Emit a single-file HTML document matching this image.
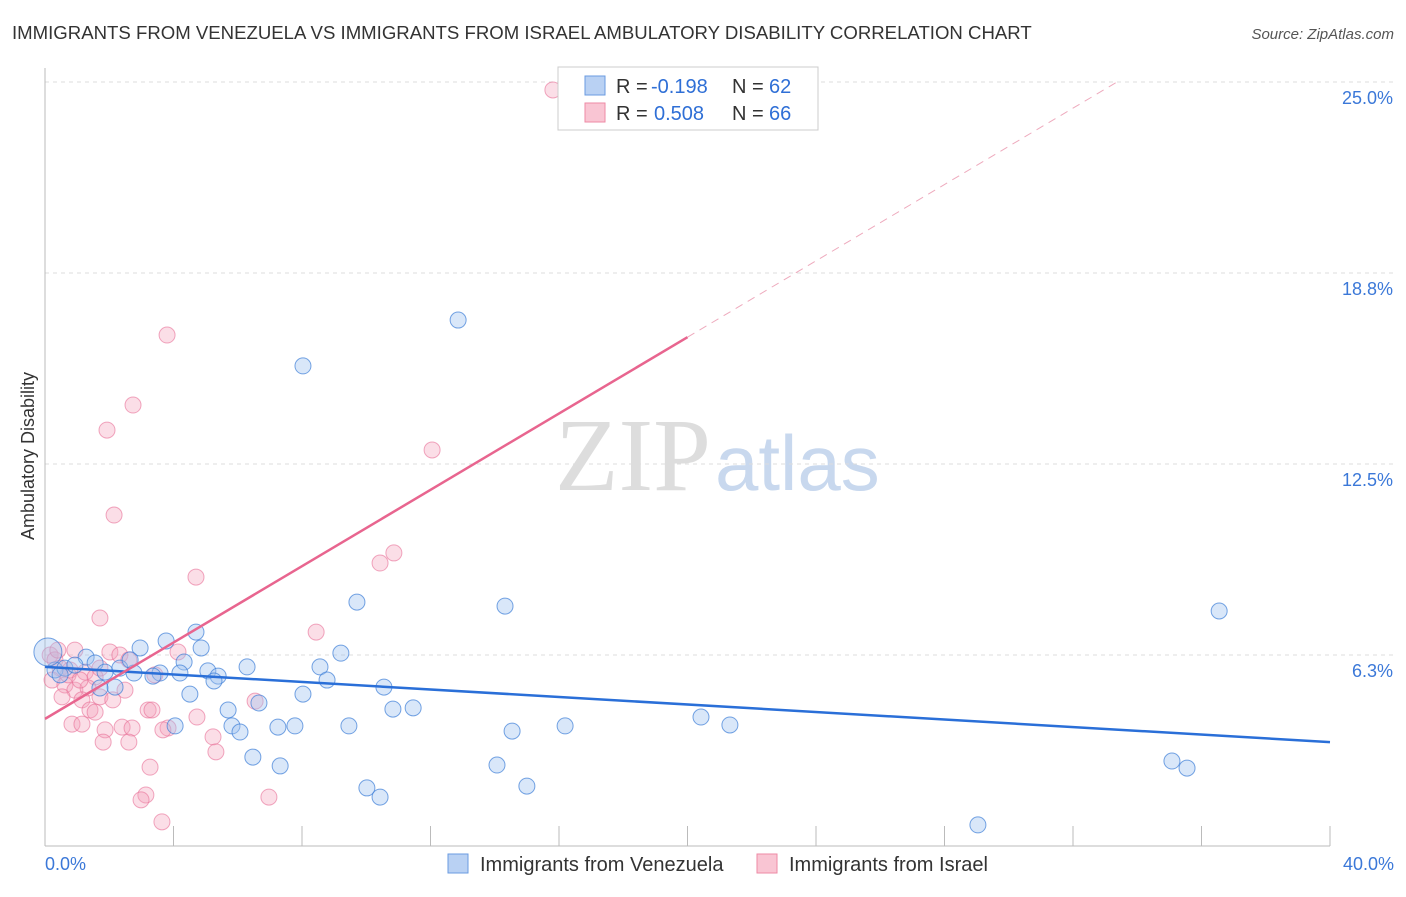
<!DOCTYPE html>
<html><head><meta charset="utf-8"><style>
body{margin:0;background:#fff;font-family:"Liberation Sans",sans-serif}
</style></head><body>
<svg id="chart" width="1406" height="892" xmlns="http://www.w3.org/2000/svg" font-family="Liberation Sans, sans-serif">
<text x="12" y="39" font-size="18.6" fill="#333">IMMIGRANTS FROM VENEZUELA VS IMMIGRANTS FROM ISRAEL AMBULATORY DISABILITY CORRELATION CHART</text>
<text x="1394" y="39" font-size="15" fill="#555" font-style="italic" text-anchor="end">Source: ZipAtlas.com</text>
<text x="555" y="490" font-size="104" fill="#ddd" font-family="Liberation Serif, serif">ZIP<tspan fill="#c8d8ee" font-family="Liberation Sans, sans-serif" font-size="78" dx="4">atlas</tspan></text>
<text transform="translate(34,456) rotate(-90)" font-size="18" fill="#333" text-anchor="middle">Ambulatory Disability</text>
<g id="grid"></g><g id="axes"></g><g id="pts"></g><g id="trend"></g>
<g>
<rect x="558" y="67" width="260" height="63" fill="#fff" stroke="#ccc"/>
<rect x="585" y="76" width="20" height="19" fill="#b9d1f3" stroke="#6a9be0"/>
<text x="616" y="93" font-size="20" fill="#333">R =</text>
<text x="651" y="93" font-size="20" fill="#2f6fd6">-0.198</text>
<text x="732" y="93" font-size="20" fill="#333">N =</text>
<text x="769" y="93" font-size="20" fill="#2f6fd6">62</text>
<rect x="585" y="103" width="20" height="19" fill="#f9c5d3" stroke="#ee8aa5"/>
<text x="616" y="120" font-size="20" fill="#333">R =</text>
<text x="654" y="120" font-size="20" fill="#2f6fd6">0.508</text>
<text x="732" y="120" font-size="20" fill="#333">N =</text>
<text x="769" y="120" font-size="20" fill="#2f6fd6">66</text>
</g>
<g>
<rect x="448" y="854" width="20" height="19" fill="#b9d1f3" stroke="#6a9be0"/>
<text x="480" y="871" font-size="20" fill="#333">Immigrants from Venezuela</text>
<rect x="757" y="854" width="20" height="19" fill="#f9c5d3" stroke="#ee8aa5"/>
<text x="789" y="871" font-size="20" fill="#333">Immigrants from Israel</text>
</g>
</svg>
<script>
const yTicks=[6.25,12.5,18.75,25];
const yTickLabels=["6.3%","12.5%","18.8%","25.0%"];
const xTickLabels=["0.0%","40.0%"];
const blueX=[12.86,8.03,9.71,14.32,36.55,4.70,3.77,2.96,4.86,9.21,1.28,4.33,6.29,8.56,5.07,4.20,3.58,2.77,5.39,5.26,8.78,3.36,10.55,2.18,4.51,8.03,6.66,5.70,10.83,11.46,20.42,4.05,5.82,7.25,7.78,9.46,16.19,21.32,6.07,14.54,6.47,7.32,14.07,35.08,35.55,15.00,10.02,10.43,29.04,0.31,0.62,0.93,1.56,1.87,2.33,2.65,1.71,0.47,0.09];
const blueY=[17.21,15.71,7.98,7.85,7.69,7.00,6.71,6.48,6.48,6.31,6.18,6.02,5.86,5.86,5.73,5.66,5.66,5.66,5.56,5.40,5.43,5.56,5.20,5.20,4.97,4.97,4.68,4.45,4.48,4.52,4.22,3.93,3.93,3.89,3.93,3.93,3.93,3.96,3.73,3.76,2.91,2.62,2.65,2.78,2.55,1.96,1.90,1.60,0.69,5.76,5.82,5.92,5.99,5.69,5.82,6.09,5.17,5.60,6.35];
const pinkX=[15.81,3.80,2.74,1.93,12.05,2.15,10.86,10.43,4.70,1.71,8.44,0.93,2.02,2.33,2.61,4.14,0.16,0.31,0.47,0.78,1.25,1.56,0.22,0.62,0.93,1.34,0.53,1.71,2.11,1.15,1.40,1.56,3.42,2.49,6.54,3.21,3.33,4.73,0.84,1.15,2.40,1.87,2.71,3.83,3.67,5.23,1.81,2.61,5.32,3.27,3.14,2.99,6.97,3.64,0.40,0.72,1.09,1.71];
const pinkY=[24.74,16.72,14.43,13.61,12.96,10.83,9.59,9.26,8.80,7.46,7.00,6.41,6.35,6.25,6.09,6.35,6.25,6.09,5.82,5.76,5.69,5.53,5.43,5.27,5.10,5.17,4.88,4.88,4.78,4.78,4.45,4.38,5.60,5.10,4.74,4.45,4.45,4.22,3.99,3.99,3.89,3.80,3.86,3.86,3.80,3.57,3.40,3.40,3.08,2.58,1.67,1.51,1.60,0.79,6.41,5.60,5.43,5.82];
const blueTrend=[5.86,3.40];
const pinkTrend=[4.16,0.6245];
const NS="http://www.w3.org/2000/svg";
const X=v=>45+v/40*1285, Y=v=>846-v/25*764;
function mk(t,a,p){const e=document.createElementNS(NS,t);for(const k in a)e.setAttribute(k,a[k]);p.appendChild(e);return e;}
const grid=document.getElementById('grid'),axes=document.getElementById('axes'),pts=document.getElementById('pts'),tr=document.getElementById('trend');
yTicks.forEach((v,i)=>{
 const l=mk('line',{x1:45,x2:1394,y1:Y(v),y2:Y(v),stroke:'#ddd','stroke-dasharray':'4,4'},grid);
 
 
 const t=mk('text',{x:1393,y:Y(v)+22,'font-size':18,fill:'#3b78d8','text-anchor':'end'},axes);t.textContent=yTickLabels[i];
 
 
});
const ax=mk('line',{x1:45,x2:45,y1:68,y2:846,stroke:'#bbb'},axes);


const bx=mk('line',{x1:45,x2:1330,y1:846,y2:846,stroke:'#bbb'},axes);


for(let i=1;i<=10;i++){const tk=mk('line',{x1:X(i*4),x2:X(i*4),y1:826,y2:846,stroke:'#bbb'},axes);
 
 }
[[0,'start',45],[40,'end',1394]].forEach((d,i)=>{const t=mk('text',{x:d[2],y:870,'font-size':18,fill:'#3b78d8','text-anchor':d[1]},axes);t.textContent=xTickLabels[i];
 
 });
pinkX.forEach((x,i)=>{const c=mk('circle',{cx:X(x),cy:Y(pinkY[i]),r:8,fill:'rgba(244,160,185,0.35)',stroke:'rgba(232,110,150,0.6)'},pts);
 
 });
blueX.forEach((x,i)=>{const c=mk('circle',{cx:X(x),cy:Y(blueY[i]),r:i==blueX.length-1?14:8,fill:'rgba(160,195,240,0.4)',stroke:'rgba(60,125,215,0.7)'},pts);
 
 });
const bl=mk('line',{x1:X(0),y1:Y(blueTrend[0]),x2:X(40),y2:Y(blueTrend[1]),stroke:'#2a6fd8','stroke-width':2.5},tr);


const pe=x=>pinkTrend[0]+pinkTrend[1]*x;
const pl=mk('line',{x1:X(0),y1:Y(pe(0)),x2:X(20),y2:Y(pe(20)),stroke:'#e8658f','stroke-width':2.5},tr);


const xe=(25-pinkTrend[0])/pinkTrend[1];
const pd=mk('line',{x1:X(20),y1:Y(pe(20)),x2:X(xe),y2:Y(25),stroke:'#eeaabd','stroke-width':1,'stroke-dasharray':'8,6'},tr);


</script>
</body></html>
